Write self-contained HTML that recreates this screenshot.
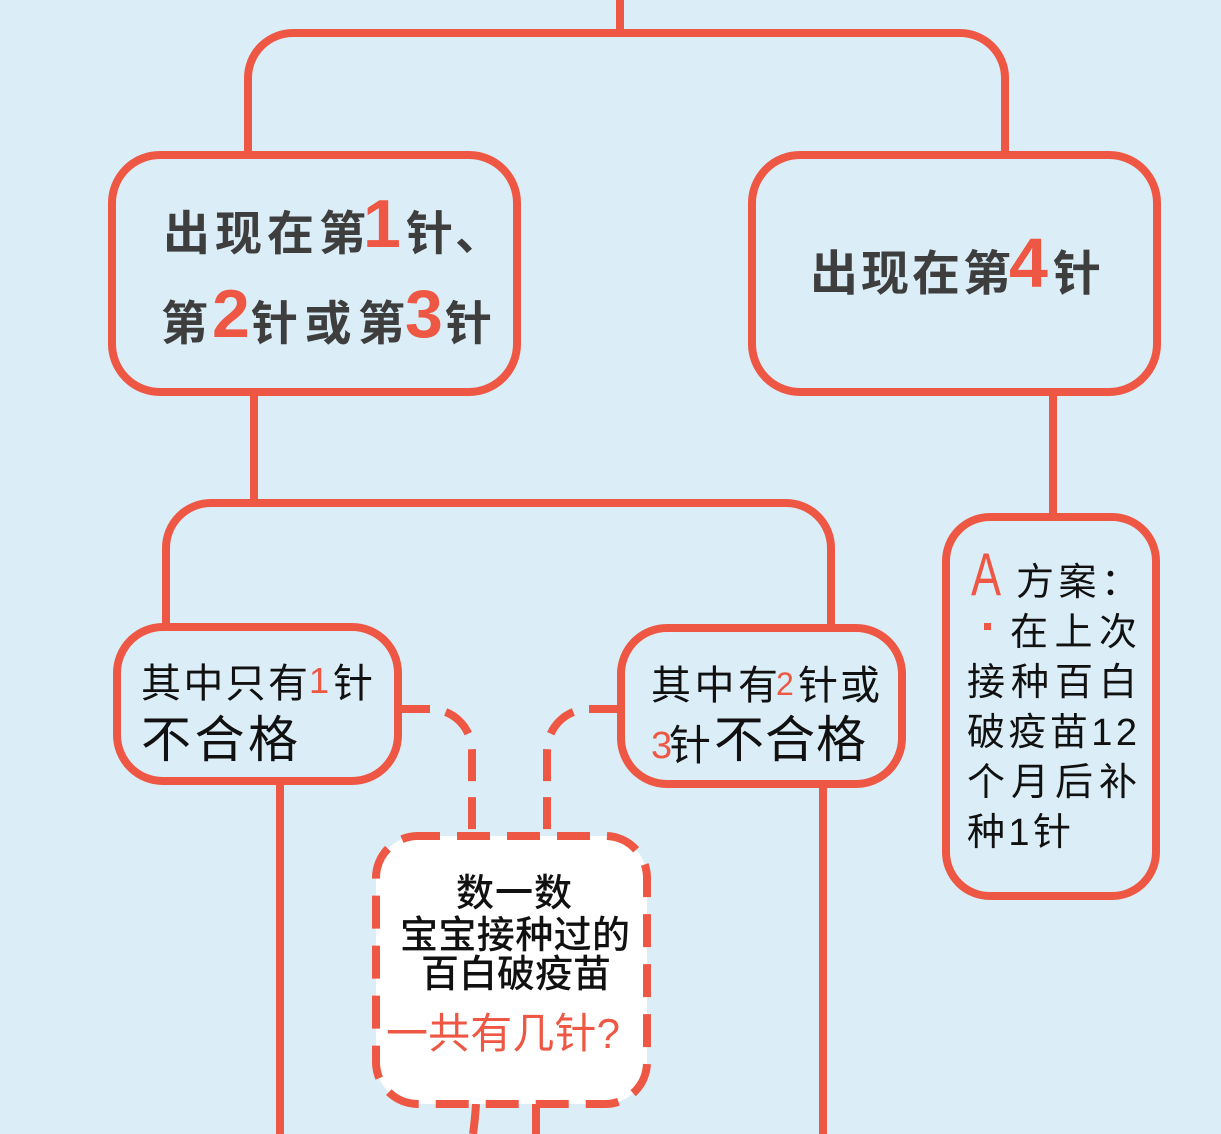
<!DOCTYPE html>
<html>
<head>
<meta charset="utf-8">
<style>
html,body{margin:0;padding:0;background:#dbeef7;}
svg{display:block;}
.cjk{font-family:"Liberation Sans","Noto Sans CJK SC",sans-serif;}
.lat{font-family:"Liberation Sans",sans-serif;}
</style>
</head>
<body>
<svg width="1221" height="1134" viewBox="0 0 1221 1134" xmlns="http://www.w3.org/2000/svg">
<rect x="0" y="0" width="1221" height="1134" fill="#dbeef7"/>
<g fill="none" stroke="#ee5743" stroke-width="8">
  <path d="M620,0 V33"/>
  <path d="M248,155 V78 A45,45 0 0 1 293,33 H960 A45,45 0 0 1 1005,78 V155"/>
  <rect x="112" y="155" width="405" height="237" rx="48"/>
  <rect x="752" y="155" width="405" height="237" rx="48"/>
  <path d="M254,392 V503"/>
  <path d="M166,626 V548 A45,45 0 0 1 211,503 H786 A45,45 0 0 1 831,548 V628"/>
  <rect x="117" y="627" width="281" height="154" rx="46"/>
  <rect x="621" y="628" width="281" height="156" rx="46"/>
  <path d="M1053,392 V517"/>
  <rect x="946" y="517" width="210" height="379" rx="44"/>
  <path d="M280,781 V1134"/>
  <path d="M823,784 V1134"/>
  <path d="M398,709 H430 A42,42 0 0 1 472,751 V840" stroke-dasharray="32 16"/>
  <path d="M621,709 H589 A42,42 0 0 0 547,751 V840" stroke-dasharray="32 16"/>
  <path d="M476,1104 Q475,1120 473,1134"/>
  <path d="M536,1104 V1134"/>
  <rect x="376" y="836" width="271" height="268" rx="42" fill="#ffffff" stroke-dasharray="33 17" stroke-dashoffset="11"/>
</g>

<!-- Box 1 -->
<g class="cjk" font-weight="bold" fill="#3e3e3e" font-size="47">
  <text x="163" y="250" textLength="203" lengthAdjust="spacing">出现在第</text>
  <text x="406" y="250">针</text>
  <text x="455" y="250">、</text>
  <text x="161" y="340">第</text>
  <text x="251" y="340" textLength="154" lengthAdjust="spacing">针或第</text>
  <text x="445" y="340">针</text>
</g>
<g class="lat" fill="#ee5743" font-size="68" font-weight="bold">
  <text x="363" y="247">1</text>
  <text x="212" y="337">2</text>
  <text x="405" y="337">3</text>
</g>

<!-- Right box -->
<g class="cjk" font-weight="bold" fill="#3e3e3e" font-size="48">
  <text x="810" y="290" textLength="201" lengthAdjust="spacing">出现在第</text>
  <text x="1053" y="290">针</text>
</g>
<text class="lat" x="1009" y="287" font-size="70" font-weight="bold" fill="#ee5743">4</text>

<!-- Box 2 -->
<g class="cjk" fill="#111111">
  <text x="141" y="697" font-size="40" textLength="167" lengthAdjust="spacing">其中只有</text>
  <text x="333" y="697" font-size="40">针</text>
  <text x="141" y="757" font-size="50" textLength="157" lengthAdjust="spacing">不合格</text>
</g>
<text class="lat" x="309" y="693" font-size="36" fill="#ee5743">1</text>

<!-- Box 3 -->
<g class="cjk" fill="#111111">
  <text x="651" y="699" font-size="40" textLength="127" lengthAdjust="spacing">其中有</text>
  <text x="798" y="699" font-size="40" textLength="82" lengthAdjust="spacing">针或</text>
  <text x="669" y="760" font-size="42">针</text>
  <text x="714" y="757" font-size="50" textLength="152" lengthAdjust="spacing">不合格</text>
</g>
<text class="lat" x="776" y="695" font-size="32" fill="#ee5743">2</text>
<text class="lat" x="651" y="758" font-size="38" fill="#ee5743">3</text>

<!-- A box -->
<text class="lat" transform="translate(971,595) scale(0.75,1)" font-size="60" fill="#ee5743">A</text>
<rect x="984" y="623" width="7" height="7" fill="#ee5743"/>
<g class="cjk" fill="#111111" font-size="38">
  <text x="1016" y="595" textLength="123" lengthAdjust="spacing">方案：</text>
  <text x="1010" y="645" textLength="127" lengthAdjust="spacing">在上次</text>
  <text x="967" y="695" textLength="170" lengthAdjust="spacing">接种百白</text>
  <text x="967" y="745" textLength="170" lengthAdjust="spacing">破疫苗12</text>
  <text x="967" y="795" textLength="170" lengthAdjust="spacing">个月后补</text>
  <text x="967" y="845" textLength="104" lengthAdjust="spacing">种1针</text>
</g>

<!-- Center box -->
<g class="cjk" fill="#111111" font-weight="500" font-size="38">
  <text x="456" y="906" textLength="116" lengthAdjust="spacing">数一数</text>
  <text x="400" y="948" textLength="230" lengthAdjust="spacing">宝宝接种过的</text>
  <text x="421" y="987" textLength="190" lengthAdjust="spacing">百白破疫苗</text>
</g>
<text class="cjk" x="386" y="1048" font-size="42" fill="#ee5743" textLength="234" lengthAdjust="spacing">一共有几针?</text>
</svg>
</body>
</html>
